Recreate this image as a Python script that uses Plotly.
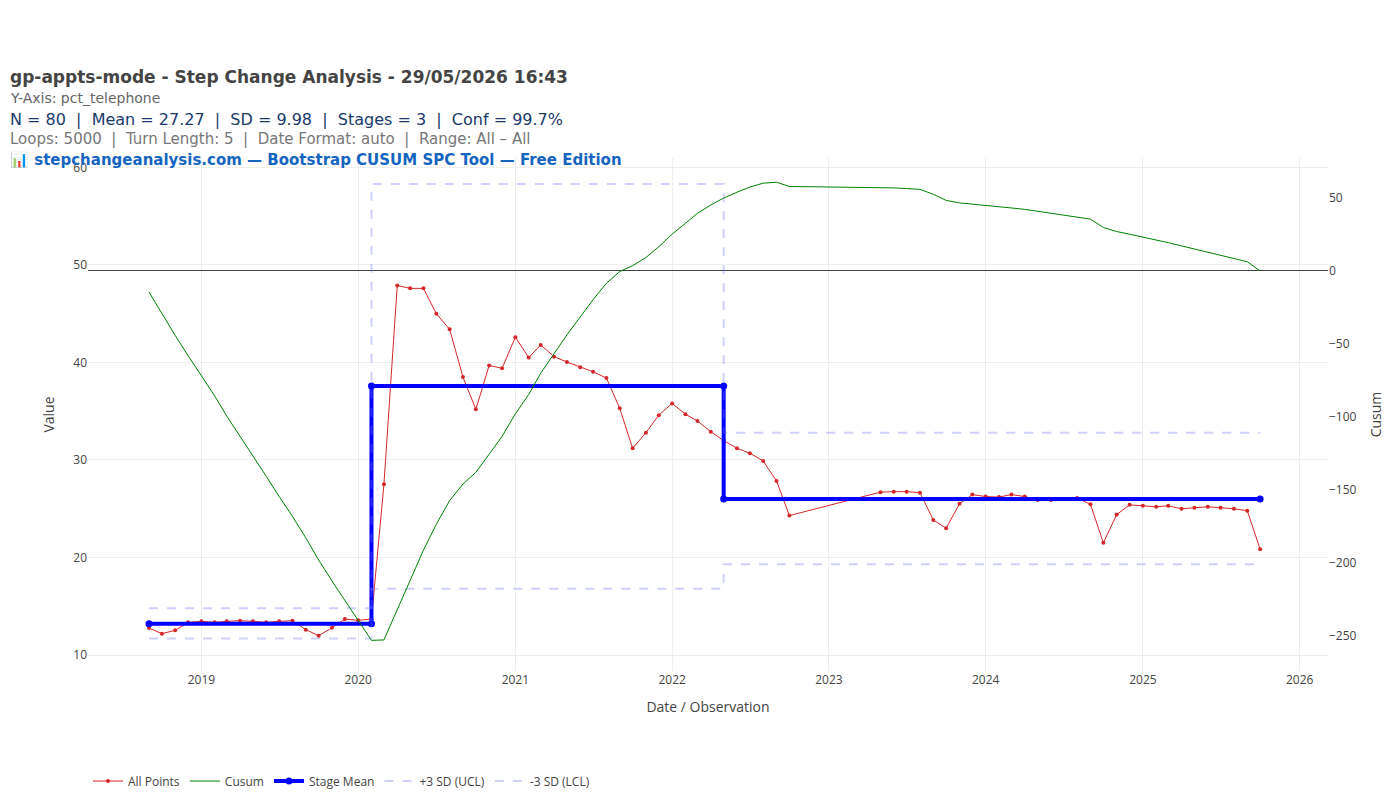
import plotly.graph_objects as go
import numpy as np
import pandas as pd

stage1_vals = [12.77, 12.19, 12.53, 13.35, 13.45, 13.35, 13.45, 13.52, 13.45, 13.35, 13.45, 13.52,
               12.6, 11.98, 12.8, 13.69, 13.56, 13.69]
stage2_vals = [27.5, 47.9, 47.6, 47.6, 45.0, 43.4, 38.5, 35.2, 39.7, 39.4, 42.6, 40.5, 41.8,
               40.6, 40.05, 39.5, 39.05, 38.4, 35.3, 31.2, 32.8, 34.6, 35.8, 34.7, 34.0, 32.9,
               31.98, 31.2, 30.7, 29.9, 27.85, 24.3]
stage3_vals = [26.7, 26.75, 26.75, 26.65, 23.85, 23.0, 25.5, 26.45, 26.25, 26.2, 26.45, 26.25,
               25.9, 25.9, 26.0, 26.1, 25.45, 21.5, 24.4, 25.4, 25.3, 25.2, 25.3, 25.0, 25.1,
               25.2, 25.1, 25.0, 24.8, 20.85]
dates = (list(pd.date_range("2018-09-01", periods=50, freq="MS")) +
         list(pd.date_range("2023-05-01", periods=30, freq="MS")))
values = stage1_vals + stage2_vals + stage3_vals

stage_x = ["2018-09-01", "2020-02-01", "2020-02-01", "2022-05-01", "2022-05-01", "2025-10-01"]
stage_means = [13.2, 13.2, 37.6, 37.6, 26.0, 26.0]
ucl = [14.8, 14.8, 58.3, 58.3, 32.8, 32.8]
lcl = [11.7, 11.7, 16.8, 16.8, 19.3, 19.3]

vals = np.array(values)
cusum = np.cumsum(vals - vals.mean())

fig = go.Figure()
fig.add_trace(go.Scatter(x=dates, y=values, mode="lines+markers", name="All Points",
                         line=dict(color="#d62728", width=1), marker=dict(size=4, color="#d62728")))
fig.add_trace(go.Scatter(x=dates, y=cusum, mode="lines", name="Cusum", yaxis="y2",
                         line=dict(color="green", width=1)))
fig.add_trace(go.Scatter(x=stage_x, y=stage_means, mode="lines+markers", name="Stage Mean",
                         line=dict(color="blue", width=4), marker=dict(size=7, color="blue")))
fig.add_trace(go.Scatter(x=stage_x, y=ucl, mode="lines", name="+3 SD (UCL)",
                         line=dict(color="rgba(120,120,255,0.35)", width=2, dash="dash")))
fig.add_trace(go.Scatter(x=stage_x, y=lcl, mode="lines", name="-3 SD (LCL)",
                         line=dict(color="rgba(120,120,255,0.35)", width=2, dash="dash")))

H = 513.0
def py(p):
    return (663 - p) / H

anns = [
    ("<b>gp-appts-mode - Step Change Analysis - 29/05/2026 16:43</b>", 69, 17, "#444"),
    ("Y-Axis: pct_telephone", 90, 14, "#666"),
    ("N = 80  |  Mean = 27.27  |  SD = 9.98  |  Stages = 3  |  Conf = 99.7%", 111, 16, "#1a3a6b"),
    ("Loops: 5000  |  Turn Length: 5  |  Date Format: auto  |  Range: All \u2013 All", 131, 15, "#777"),
    ("<b>\U0001F4CA stepchangeanalysis.com \u2014 Bootstrap CUSUM SPC Tool \u2014 Free Edition</b>", 152, 15, "#1565c0"),
]
annotations = [dict(text=t, xref="paper", yref="paper", x=-80/1240, y=py(p), xanchor="left",
                    yanchor="middle", showarrow=False,
                    font=dict(size=s, color=c, family="DejaVu Sans")) for t, p, s, c in anns]

fig.update_layout(
    width=1400, height=800,
    font=dict(family="Open Sans", size=12, color="#444"),
    plot_bgcolor="white", paper_bgcolor="white",
    margin=dict(l=80, r=80, t=150, b=137, autoexpand=False),
    annotations=annotations,
    xaxis=dict(range=["2018-04-12", "2026-03-08"], showgrid=True, gridcolor="#eee", automargin=False,
               title=dict(text="Date / Observation", font=dict(size=14)), zeroline=False),
    yaxis=dict(range=[8.36, 60.97], showgrid=True, gridcolor="#eee", tickvals=[10, 20, 30, 40, 50, 60],
               automargin=False, title=dict(text="Value", font=dict(size=14)), zeroline=False),
    yaxis2=dict(range=[-274, 77.4], overlaying="y", side="right", showgrid=False, automargin=False,
                zeroline=True, zerolinecolor="#444", zerolinewidth=1,
                tickvals=[-250, -200, -150, -100, -50, 0, 50],
                title=dict(text="Cusum", font=dict(size=14))),
    legend=dict(orientation="h", x=0.0, y=(663 - 773) / H, xanchor="left", yanchor="middle",
                font=dict(size=12)),
)
fig.write_html("out.html")
